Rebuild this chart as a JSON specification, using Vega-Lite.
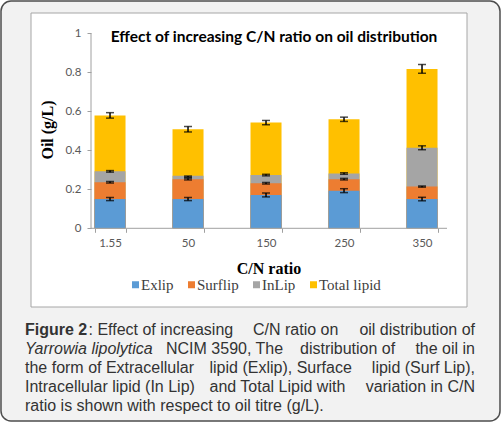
{
  "$schema": "https://vega.github.io/schema/vega-lite/v6.json",
  "width": 499,
  "height": 420,
  "padding": {"left": 1, "top": 1, "right": 2, "bottom": 2},
  "autosize": "none",
  "background": "#ffffff",
  "config": {
    "view": {"fill": "#f2f2f2", "stroke": "#4d4d4d", "strokeWidth": 1.5, "cornerRadius": 10}
  },
  "datasets": {
    "lipid": [
      {"cn": "1.55", "series": "Total lipid", "value": 0.579, "lo": 0.565, "hi": 0.593},
      {"cn": "50", "series": "Total lipid", "value": 0.508, "lo": 0.494, "hi": 0.522},
      {"cn": "150", "series": "Total lipid", "value": 0.542, "lo": 0.531, "hi": 0.553},
      {"cn": "250", "series": "Total lipid", "value": 0.559, "lo": 0.548, "hi": 0.57},
      {"cn": "350", "series": "Total lipid", "value": 0.817, "lo": 0.795, "hi": 0.84},
      {"cn": "1.55", "series": "InLip", "value": 0.292, "lo": 0.288, "hi": 0.296},
      {"cn": "50", "series": "InLip", "value": 0.27, "lo": 0.262, "hi": 0.268},
      {"cn": "150", "series": "InLip", "value": 0.273, "lo": 0.269, "hi": 0.277},
      {"cn": "250", "series": "InLip", "value": 0.281, "lo": 0.277, "hi": 0.285},
      {"cn": "350", "series": "InLip", "value": 0.413, "lo": 0.403, "hi": 0.423},
      {"cn": "1.55", "series": "Surflip", "value": 0.236, "lo": 0.232, "hi": 0.24},
      {"cn": "50", "series": "Surflip", "value": 0.252, "lo": 0.248, "hi": 0.257},
      {"cn": "150", "series": "Surflip", "value": 0.231, "lo": 0.227, "hi": 0.235},
      {"cn": "250", "series": "Surflip", "value": 0.252, "lo": 0.248, "hi": 0.256},
      {"cn": "350", "series": "Surflip", "value": 0.214, "lo": 0.211, "hi": 0.217},
      {"cn": "1.55", "series": "Exlip", "value": 0.15, "lo": 0.142, "hi": 0.158},
      {"cn": "50", "series": "Exlip", "value": 0.15, "lo": 0.142, "hi": 0.158},
      {"cn": "150", "series": "Exlip", "value": 0.171, "lo": 0.161, "hi": 0.181},
      {"cn": "250", "series": "Exlip", "value": 0.193, "lo": 0.183, "hi": 0.203},
      {"cn": "350", "series": "Exlip", "value": 0.15, "lo": 0.141, "hi": 0.159}
    ],
    "caption": [
      {"line": 1, "part": "b", "text": "Figure 2"},
      {"line": 1, "part": "m1", "text": ": Effect of increasing"},
      {"line": 1, "part": "m2", "text": "C/N ratio on"},
      {"line": 1, "part": "r", "text": "oil distribution of"},
      {"line": 2, "part": "i", "text": "Yarrowia lipolytica"},
      {"line": 2, "part": "m3", "text": "NCIM 3590, The"},
      {"line": 2, "part": "m4", "text": "distribution of"},
      {"line": 2, "part": "r", "text": "the oil in"},
      {"line": 3, "part": "l", "text": "the form of Extracellular"},
      {"line": 3, "part": "m5", "text": "lipid (Exlip), Surface"},
      {"line": 3, "part": "r", "text": "lipid (Surf Lip),"},
      {"line": 4, "part": "l", "text": "Intracellular lipid (In Lip)"},
      {"line": 4, "part": "m5", "text": "and Total Lipid with"},
      {"line": 4, "part": "r", "text": "variation in C/N"},
      {"line": 5, "part": "l", "text": "ratio is shown with respect to oil titre (g/L)."}
    ]
  },
  "resolve": {
    "scale": {"x": "independent", "y": "independent"},
    "axis": {"x": "independent", "y": "independent"}
  },
  "layer": [
    {
      "data": {"values": [{}]},
      "mark": {"type": "rect", "fill": "#ffffff", "stroke": "#a6a6a6", "strokeWidth": 1},
      "encoding": {
        "x": {"datum": 31, "type": "quantitative", "scale": {"domain": [1, 500], "nice": false, "zero": false}, "axis": null},
        "x2": {"datum": 467},
        "y": {"datum": 13, "type": "quantitative", "scale": {"domain": [1, 421], "reverse": true, "nice": false, "zero": false}, "axis": null},
        "y2": {"datum": 307}
      }
    },
    {
      "data": {"name": "lipid"},
      "layer": [
        {
          "mark": {"type": "bar"},
          "encoding": {
            "x": {
              "field": "cn", "type": "nominal",
              "scale": {"domain": ["1.55", "50", "150", "250", "350"], "paddingInner": 0.6025, "paddingOuter": 1.3055, "align": 0.5995, "round": false},
              "axis": {"title": null, "orient": "bottom", "offset": -192.7, "zindex": 1, "domain": false, "grid": false, "ticks": true, "tickBand": "extent", "tickSize": 4, "tickColor": "#a0a0a0", "labelAngle": 0, "labelFont": "Lato", "labelFontSize": 11.5, "labelColor": "#595959", "labelPadding": 5}
            },
            "y": {
              "field": "value", "type": "quantitative", "stack": null,
              "scale": {"domain": [-0.98821, 1.16564], "nice": false, "zero": false},
              "axis": {"title": null, "orient": "left", "offset": -90, "zindex": 1, "domain": false, "grid": false, "values": [0, 0.2, 0.4, 0.6, 0.8, 1], "format": "~g", "tickSize": 4, "tickColor": "#a0a0a0", "labelFont": "Lato", "labelFontSize": 11.5, "labelColor": "#595959", "labelPadding": 6}
            },
            "color": {
              "field": "series", "type": "nominal",
              "scale": {"domain": ["Exlip", "Surflip", "InLip", "Total lipid"], "range": ["#5b9bd5", "#ed7d31", "#a5a5a5", "#ffc000"]},
              "legend": {"orient": "none", "legendX": 127, "legendY": 276, "direction": "horizontal", "title": null, "symbolType": "square", "symbolSize": 49, "symbolStrokeWidth": 0, "labelFont": "Liberation Serif", "labelFontSize": 15, "labelColor": "#404040", "labelOffset": -2, "columnPadding": 10, "padding": 0}
            }
          }
        },
        {
          "mark": {"type": "errorbar", "ticks": {"size": 8, "thickness": 1.5}, "thickness": 1.5, "color": "#000000"},
          "encoding": {
            "x": {
              "field": "cn", "type": "nominal",
              "scale": {"domain": ["1.55", "50", "150", "250", "350"], "paddingInner": 0.6025, "paddingOuter": 1.3055, "align": 0.5995, "round": false},
              "axis": {"title": null, "orient": "bottom", "offset": -192.7, "zindex": 1, "domain": false, "grid": false, "ticks": true, "tickBand": "extent", "tickSize": 4, "tickColor": "#a0a0a0", "labelAngle": 0, "labelFont": "Lato", "labelFontSize": 11.5, "labelColor": "#595959", "labelPadding": 5}
            },
            "y": {
              "field": "lo", "type": "quantitative",
              "scale": {"domain": [-0.98821, 1.16564], "nice": false, "zero": false},
              "axis": {"title": null, "orient": "left", "offset": -90, "zindex": 1, "domain": false, "grid": false, "values": [0, 0.2, 0.4, 0.6, 0.8, 1], "format": "~g", "tickSize": 4, "tickColor": "#a0a0a0", "labelFont": "Lato", "labelFontSize": 11.5, "labelColor": "#595959", "labelPadding": 6}
            },
            "y2": {"field": "hi"}
          }
        }
      ]
    },
    {
      "data": {"values": [{}]},
      "layer": [
        {
          "mark": {"type": "rule", "color": "#a0a0a0", "strokeWidth": 1},
          "encoding": {
            "x": {"datum": 91, "type": "quantitative", "scale": {"domain": [1, 500], "nice": false, "zero": false}, "axis": null},
            "y": {"datum": 33.3, "type": "quantitative", "scale": {"domain": [1, 421], "reverse": true, "nice": false, "zero": false}, "axis": null},
            "y2": {"datum": 228.3}
          }
        },
        {
          "mark": {"type": "rule", "color": "#a0a0a0", "strokeWidth": 1},
          "encoding": {
            "x": {"datum": 91, "type": "quantitative", "scale": {"domain": [1, 500], "nice": false, "zero": false}, "axis": null},
            "x2": {"datum": 447},
            "y": {"datum": 228.3, "type": "quantitative", "scale": {"domain": [1, 421], "reverse": true, "nice": false, "zero": false}, "axis": null}
          }
        },
        {
          "mark": {"type": "text", "text": "Effect of increasing C/N ratio on oil distribution", "font": "Lato", "fontWeight": "bold", "fontSize": 15.5, "align": "center", "baseline": "alphabetic", "color": "#000000"},
          "encoding": {
            "x": {"datum": 274, "type": "quantitative", "scale": {"domain": [1, 500], "nice": false, "zero": false}, "axis": null},
            "y": {"datum": 42, "type": "quantitative", "scale": {"domain": [1, 421], "reverse": true, "nice": false, "zero": false}, "axis": null}
          }
        },
        {
          "mark": {"type": "text", "text": "Oil (g/L)", "font": "Liberation Serif", "fontWeight": "bold", "fontSize": 16, "angle": 270, "align": "center", "baseline": "middle", "color": "#000000"},
          "encoding": {
            "x": {"datum": 48, "type": "quantitative", "scale": {"domain": [1, 500], "nice": false, "zero": false}, "axis": null},
            "y": {"datum": 130, "type": "quantitative", "scale": {"domain": [1, 421], "reverse": true, "nice": false, "zero": false}, "axis": null}
          }
        },
        {
          "mark": {"type": "text", "text": "C/N ratio", "font": "Liberation Serif", "fontWeight": "bold", "fontSize": 16, "align": "center", "baseline": "alphabetic", "color": "#000000"},
          "encoding": {
            "x": {"datum": 269, "type": "quantitative", "scale": {"domain": [1, 500], "nice": false, "zero": false}, "axis": null},
            "y": {"datum": 273.5, "type": "quantitative", "scale": {"domain": [1, 421], "reverse": true, "nice": false, "zero": false}, "axis": null}
          }
        }
      ]
    },
    {
      "data": {"name": "caption"},
      "encoding": {
        "y": {"field": "line", "type": "quantitative", "scale": {"domain": [-16.243, 5.77], "reverse": true, "nice": false, "zero": false}, "axis": null},
        "text": {"field": "text", "type": "nominal"}
      },
      "layer": [
        {
          "transform": [{"filter": "datum.part === 'b'"}],
          "mark": {"type": "text", "font": "Liberation Sans", "fontSize": 16, "fontWeight": "bold", "align": "left", "baseline": "middle", "color": "#333333"},
          "encoding": {"x": {"datum": 25, "type": "quantitative", "scale": {"domain": [1, 500], "nice": false, "zero": false}, "axis": null}}
        },
        {
          "transform": [{"filter": "datum.part === 'i'"}],
          "mark": {"type": "text", "font": "Liberation Sans", "fontSize": 16, "fontStyle": "italic", "align": "left", "baseline": "middle", "color": "#333333"},
          "encoding": {"x": {"datum": 25, "type": "quantitative", "scale": {"domain": [1, 500], "nice": false, "zero": false}, "axis": null}}
        },
        {
          "transform": [{"filter": "datum.part === 'l'"}],
          "mark": {"type": "text", "font": "Liberation Sans", "fontSize": 16, "align": "left", "baseline": "middle", "color": "#333333"},
          "encoding": {"x": {"datum": 25, "type": "quantitative", "scale": {"domain": [1, 500], "nice": false, "zero": false}, "axis": null}}
        },
        {
          "transform": [{"filter": "datum.part === 'm1'"}],
          "mark": {"type": "text", "font": "Liberation Sans", "fontSize": 16, "align": "left", "baseline": "middle", "color": "#333333"},
          "encoding": {"x": {"datum": 88.5, "type": "quantitative", "scale": {"domain": [1, 500], "nice": false, "zero": false}, "axis": null}}
        },
        {
          "transform": [{"filter": "datum.part === 'm2'"}],
          "mark": {"type": "text", "font": "Liberation Sans", "fontSize": 16, "align": "left", "baseline": "middle", "color": "#333333"},
          "encoding": {"x": {"datum": 253, "type": "quantitative", "scale": {"domain": [1, 500], "nice": false, "zero": false}, "axis": null}}
        },
        {
          "transform": [{"filter": "datum.part === 'm3'"}],
          "mark": {"type": "text", "font": "Liberation Sans", "fontSize": 16, "align": "left", "baseline": "middle", "color": "#333333"},
          "encoding": {"x": {"datum": 166, "type": "quantitative", "scale": {"domain": [1, 500], "nice": false, "zero": false}, "axis": null}}
        },
        {
          "transform": [{"filter": "datum.part === 'm4'"}],
          "mark": {"type": "text", "font": "Liberation Sans", "fontSize": 16, "align": "left", "baseline": "middle", "color": "#333333"},
          "encoding": {"x": {"datum": 300, "type": "quantitative", "scale": {"domain": [1, 500], "nice": false, "zero": false}, "axis": null}}
        },
        {
          "transform": [{"filter": "datum.part === 'm5'"}],
          "mark": {"type": "text", "font": "Liberation Sans", "fontSize": 16, "align": "left", "baseline": "middle", "color": "#333333"},
          "encoding": {"x": {"datum": 209.5, "type": "quantitative", "scale": {"domain": [1, 500], "nice": false, "zero": false}, "axis": null}}
        },
        {
          "transform": [{"filter": "datum.part === 'r'"}],
          "mark": {"type": "text", "font": "Liberation Sans", "fontSize": 16, "align": "right", "baseline": "middle", "color": "#333333"},
          "encoding": {"x": {"datum": 475, "type": "quantitative", "scale": {"domain": [1, 500], "nice": false, "zero": false}, "axis": null}}
        }
      ]
    }
  ]
}
